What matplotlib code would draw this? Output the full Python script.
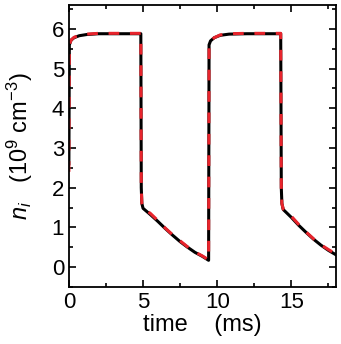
import numpy as np
import matplotlib.pyplot as plt
from matplotlib.ticker import MultipleLocator

plt.rcParams['font.family'] = ['Liberation Sans', 'DejaVu Sans']
plt.rcParams['mathtext.fontset'] = 'custom'
plt.rcParams['mathtext.rm'] = 'Liberation Sans'
plt.rcParams['mathtext.it'] = 'Liberation Sans:italic'

# simulated ion density (black) and fit (red dashed)
t_sim = [0.0, 0.03, 0.15, 0.35, 0.7, 1.2, 2.0, 4.85, 4.88, 4.92, 5.0, 5.5, 6.0, 6.5,
         7.0, 7.5, 8.0, 8.5, 9.0, 9.42, 9.45, 9.55, 9.8, 10.2, 10.8, 12.0, 14.28,
         14.32, 14.36, 14.45, 15.0, 15.5, 16.0, 16.5, 17.0, 17.5, 18.0]
n_sim = [2.6, 5.6, 5.72, 5.78, 5.83, 5.86, 5.88, 5.88, 2.0, 1.6, 1.48, 1.32, 1.15, 0.97,
         0.8, 0.64, 0.5, 0.37, 0.27, 0.17, 5.6, 5.7, 5.78, 5.84, 5.87, 5.88, 5.88,
         2.0, 1.6, 1.45, 1.25, 1.05, 0.87, 0.7, 0.55, 0.42, 0.31]
t_fit = list(t_sim)
n_fit = [2.4, 5.6, 5.72, 5.79, 5.84, 5.87, 5.89, 5.89, 2.0, 1.6, 1.49, 1.35, 1.17, 0.98,
         0.81, 0.66, 0.51, 0.38, 0.28, 0.18, 5.6, 5.7, 5.78, 5.85, 5.88, 5.89, 5.89,
         2.0, 1.6, 1.46, 1.28, 1.07, 0.88, 0.71, 0.56, 0.44, 0.33]

fig = plt.figure(figsize=(3.41, 3.44), dpi=100)
ax = fig.add_axes([0.202, 0.166, 0.783, 0.819])
ax.plot(t_sim, n_sim, color='black', lw=2.2)
ax.plot(t_fit, n_fit, color='#e8242c', lw=2.2, dashes=(3.5, 3.5))

ax.set_xlim(0, 18)
ax.set_ylim(-0.5, 6.6)
ax.xaxis.set_major_locator(MultipleLocator(5))
ax.xaxis.set_minor_locator(MultipleLocator(2.5))
ax.yaxis.set_major_locator(MultipleLocator(1))
ax.yaxis.set_minor_locator(MultipleLocator(0.5))
ax.tick_params(which='both', direction='in', top=True, right=True, width=1.2, labelsize=16)
ax.tick_params(which='major', length=5)
ax.tick_params(which='minor', length=3)
for s in ax.spines.values():
    s.set_linewidth(1.3)

ax.set_xlabel('time    (ms)', fontsize=17, labelpad=1)
ax.set_ylabel(r'$n_i$   (10$^9$ cm$^{-3}$)', fontsize=17, labelpad=12)

fig.savefig('out.png', dpi=100)
